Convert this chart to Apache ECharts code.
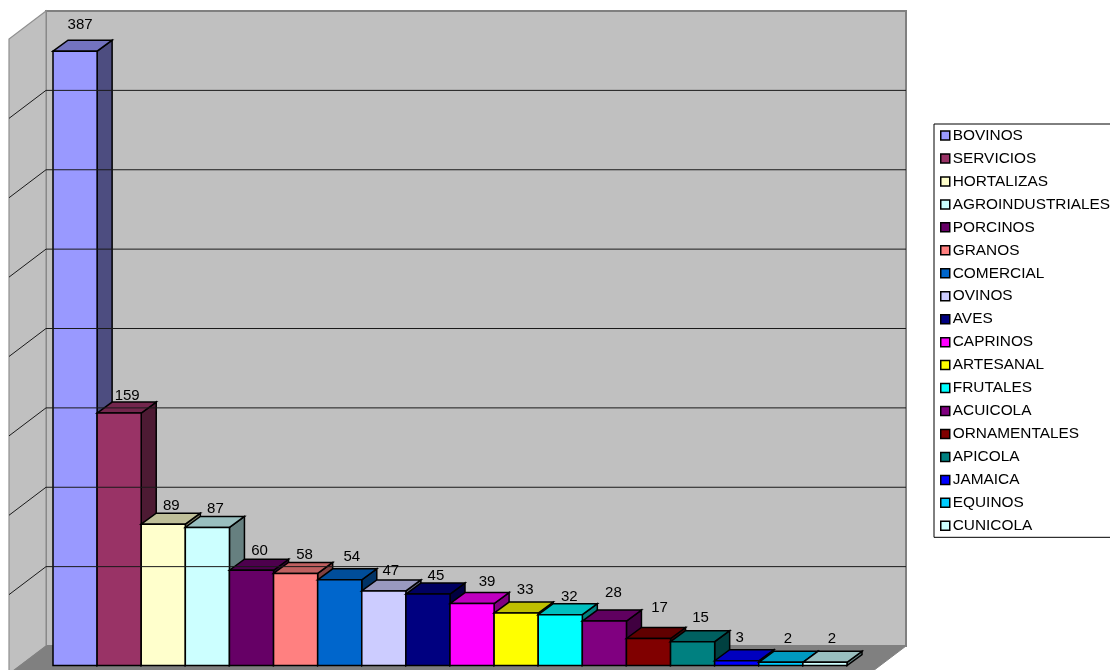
<!DOCTYPE html>
<html>
<head>
<meta charset="utf-8">
<style>html,body{margin:0;padding:0;background:#fff;overflow:hidden}#chart{width:1110px;height:670px}</style>
<script src="https://cdn.jsdelivr.net/npm/echarts@6/dist/echarts.min.js"></script>
</head>
<body>
<div id="chart"></div>
<script>
// Proyectos por rama productiva
const categories = ['BOVINOS','SERVICIOS','HORTALIZAS','AGROINDUSTRIALES','PORCINOS','GRANOS','COMERCIAL','OVINOS','AVES','CAPRINOS','ARTESANAL','FRUTALES','ACUICOLA','ORNAMENTALES','APICOLA','JAMAICA','EQUINOS','CUNICOLA'];
const values = [387,159,89,87,60,58,54,47,45,39,33,32,28,17,15,3,2,2];
const colors = ['#9999FF','#993366','#FFFFCC','#CCFFFF','#660066','#FF8080','#0066CC','#CCCCFF','#000080','#FF00FF','#FFFF00','#00FFFF','#800080','#800000','#008080','#0000FF','#00CCFF','#CCFFFF'];
const gridValues = [0,50,100,150,200,250,300,350,400];

// Nudges of each value label from the back-top centre of its bar, in pixels
const labelNudgeX = [-10,-7,-7,-7,-7,-6,-3,-8,-7,0,-6,-6,-6,-4,-7,-12,-8,-8];
const labelNudgeY = [-15,-6,-7,-8,-8,-8,-12,-9,-7,-11,-12,-7,-17,-20,-13,-12,-12,-12];

// Receding direction of the bars, and the extent of the room around them
const BAR_DX = 15, BAR_DY = -11;
const ROOM = {backLeft: -7, backRight: 59, backUp: -19.5, sideDx: -37, sideDy: 28};

function shade(hex, k) {
  const n = parseInt(hex.slice(1), 16);
  const c = [(n >> 16) & 255, (n >> 8) & 255, n & 255].map(v => Math.round(v * k));
  return 'rgb(' + c.join(',') + ')';
}

function poly(points, fill, stroke, lineWidth, z2) {
  return {type: 'polygon', z2: z2 || 0, shape: {points},
    style: {fill, stroke: stroke || 'none', lineWidth: lineWidth || 0}};
}

// One box per bar: side and top faces recede up and to the right of the front face
function renderBar(params, api) {
  const i = api.value(0), v = api.value(1);
  const idx = params.seriesIndex - 1;
  const top = api.coord([i, v]), base = api.coord([i, 0]);
  const w = api.size([1, 0])[0];
  const l = top[0] - w / 2, r = top[0] + w / 2, t = top[1], b = base[1];
  const col = colors[idx], stroke = '#000', lw = 1.5;
  return {type: 'group', children: [
    poly([[r, t], [r + BAR_DX, t + BAR_DY], [r + BAR_DX, b + BAR_DY], [r, b]], shade(col, 0.5), stroke, lw),
    poly([[l, t], [l + BAR_DX, t + BAR_DY], [r + BAR_DX, t + BAR_DY], [r, t]], shade(col, 0.75), stroke, lw),
    poly([[l, t], [r, t], [r, b], [l, b]], col, stroke, lw),
    {type: 'text', z2: 50, style: {
      text: String(v), x: top[0] + BAR_DX + labelNudgeX[idx], y: t + BAR_DY + labelNudgeY[idx],
      align: 'center', verticalAlign: 'middle', fill: '#000',
      font: '15px "Liberation Sans", Arial, sans-serif'}}
  ]};
}

// Back wall, side wall, floor, and the value gridlines across both walls
function renderRoom(params, api) {
  const v = api.value(0);
  const p = api.coord([0, v]);
  const w = api.size([1, 0])[0];
  const x0 = p[0] - w / 2 + ROOM.backLeft;
  const x1 = p[0] - w / 2 + w * categories.length + ROOM.backRight;
  const yAt = u => api.coord([0, u])[1] + ROOM.backUp;
  const y = yAt(v), yTop = yAt(gridValues[gridValues.length - 1]), yBot = yAt(0);
  const children = [];
  if (params.dataIndex === 0) {
    children.push(
      poly([[x0, yTop], [x1, yTop], [x1, yBot], [x0, yBot]], '#C0C0C0', '#808080', 2),
      poly([[x0, yTop], [x0 + ROOM.sideDx, yTop + ROOM.sideDy], [x0 + ROOM.sideDx, yBot + ROOM.sideDy], [x0, yBot]], '#C0C0C0', '#909090', 1.2),
      poly([[x0, yBot], [x1, yBot], [x1 + ROOM.sideDx, yBot + ROOM.sideDy], [x0 + ROOM.sideDx, yBot + ROOM.sideDy]], '#808080', '#808080', 1)
    );
  } else if (v < gridValues[gridValues.length - 1]) {
    children.push({type: 'polyline', z2: 5,
      shape: {points: [[x0 + ROOM.sideDx, y + ROOM.sideDy], [x0, y], [x1, y]]},
      style: {fill: 'none', stroke: '#1a1a1a', lineWidth: 1}});
  }
  return {type: 'group', children};
}

const series = [{
  name: 'pared', type: 'custom', silent: true, animation: false, clip: false,
  renderItem: renderRoom, data: gridValues.map(v => [v]),
  encode: {x: [], y: 0}
}].concat(categories.map((name, i) => ({
  name, type: 'custom', animation: false, clip: false,
  itemStyle: {color: colors[i]},
  renderItem: renderBar, data: [[i, values[i]]], encode: {x: 0, y: 1}
})));

const chart = echarts.init(document.getElementById('chart'), null, {renderer: 'canvas'});
chart.setOption({
  animation: false,
  backgroundColor: '#fff',
  grid: {left: 53, top: 30.5, width: 794, height: 635, containLabel: false},
  xAxis: {type: 'category', data: categories, show: false},
  yAxis: {type: 'value', min: 0, max: 400, interval: 50, show: false},
  legend: {
    orient: 'vertical', left: 934, top: 124,
    data: categories, icon: 'rect', itemWidth: 9, itemHeight: 9, itemGap: 7.96,
    padding: [4, 20, 4, 6], selectedMode: false,
    backgroundColor: '#fff', borderColor: '#000', borderWidth: 1,
    itemStyle: {borderColor: '#000', borderWidth: 1.5},
    textStyle: {color: '#000', fontSize: 15.4, fontFamily: '"Liberation Sans", Arial, sans-serif', lineHeight: 14, padding: [0, 0, 0, -2]}
  },
  tooltip: {show: false},
  series
});
</script>
</body>
</html>
